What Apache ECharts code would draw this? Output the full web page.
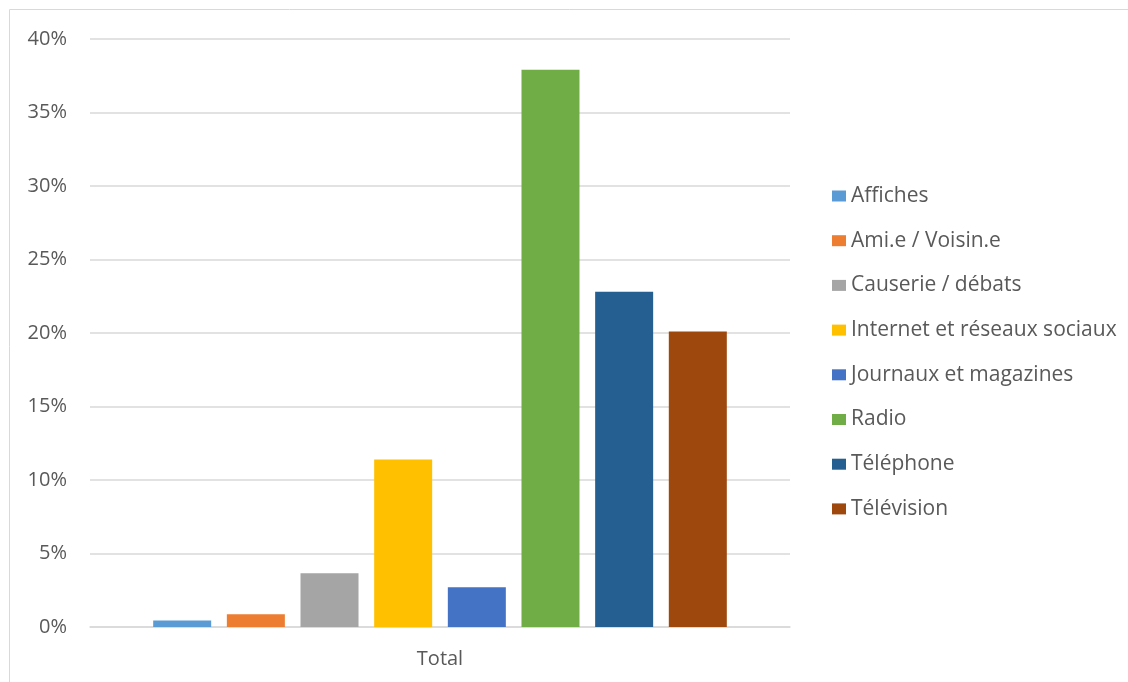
<!DOCTYPE html>
<html><head><meta charset="utf-8">
<script src="https://cdn.jsdelivr.net/npm/echarts@6/dist/echarts.min.js"></script>
<style>html,body{margin:0;padding:0;background:#fff}#c{width:1128px;height:682px}</style>
</head><body><div id="c"></div>
<script>
const categories = ['Total'];
const seriesNames = ['Affiches','Ami.e / Voisin.e','Causerie / débats','Internet et réseaux sociaux','Journaux et magazines','Radio','Téléphone','Télévision'];
const seriesValues = [0.45, 0.86, 3.65, 11.4, 2.7, 37.9, 22.8, 20.1];
const seriesColors = ['#5B9BD5','#ED7D31','#A5A5A5','#FFC000','#4472C4','#70AD47','#255E91','#9E480E'];
const yTicks = [0,5,10,15,20,25,30,35,40];

const chart = echarts.init(document.getElementById('c'));
const font = '"Open Sans", Calibri, "Liberation Sans", sans-serif';
chart.setOption({
  animation:false,
  textStyle:{fontFamily:font},
  graphic:[{type:'rect',shape:{x:9.5,y:9.5,width:1200,height:700},style:{fill:'none',stroke:'#D9D9D9',lineWidth:1},silent:true}],
  grid:{left:90,right:338,top:39,bottom:55,containLabel:false},
  legend:{orient:'vertical',left:827,top:180.5,itemWidth:14,itemHeight:11,itemGap:23.7,icon:'rect',
    textStyle:{fontSize:21,color:'#595959',fontFamily:font},
    data:seriesNames},
  xAxis:{type:'category',data:categories,axisLine:{lineStyle:{color:'#D9D9D9',width:1.5}},axisTick:{show:false},
    axisLabel:{fontSize:20,color:'#595959',margin:22,fontFamily:font}},
  yAxis:{type:'value',min:yTicks[0],max:yTicks[yTicks.length-1],interval:5,
    axisLine:{show:false},axisTick:{show:false},
    splitLine:{lineStyle:{color:'#D9D9D9',width:1.5}},
    axisLabel:{fontSize:20,color:'#595959',margin:23,fontFamily:font,formatter:v=>v+'%'}},
  series:seriesNames.map((n,i)=>({name:n,type:'bar',data:[seriesValues[i]],barWidth:58,barGap:'27%',
    itemStyle:{color:seriesColors[i]}}))
});
</script></body></html>
